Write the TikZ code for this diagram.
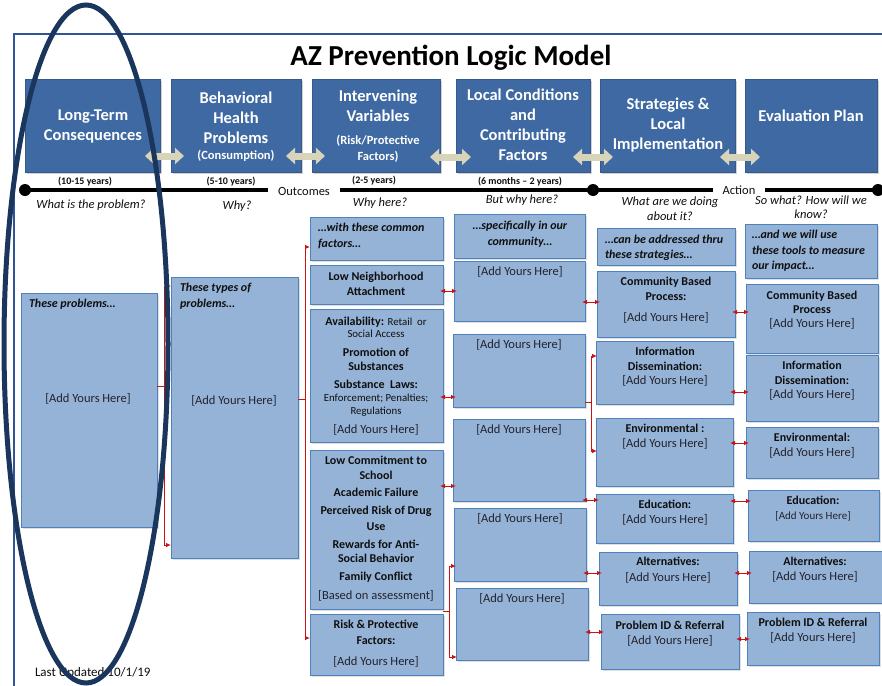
\documentclass[tikz,border=0pt]{standalone}
\usepackage{fontspec}
\setmainfont{Carlito}
\usetikzlibrary{arrows.meta,shadows,calc}
\definecolor{hdr}{RGB}{62,105,162}
\definecolor{lbf}{RGB}{149,179,215}
\definecolor{lbd}{RGB}{79,129,189}
\definecolor{rl}{RGB}{200,20,20}
\definecolor{beige}{RGB}{216,212,186}
\definecolor{navy}{RGB}{27,54,93}
\definecolor{frm}{RGB}{47,85,151}
\definecolor{tx}{RGB}{15,15,15}
\definecolor{tg}{RGB}{35,35,45}
\newcommand\mybox[6]{%
  \pgfmathsetmacro\mbw{#4-#2}%
  \pgfmathsetmacro\mbh{#5-#3}%
  \node[#6, minimum width=\mbw pt, minimum height=\mbh pt, anchor=north west] (#1) at (#2,#3) {};%
}
\begin{document}
\begin{tikzpicture}[x=1pt,y=-1pt,
  every node/.append style={inner sep=0pt, outer sep=0pt},
  hbox/.style={fill=hdr, draw=hdr!85!black, line width=0.6pt, drop shadow={shadow xshift=2pt,shadow yshift=-2pt,opacity=0.35}},
  lbox/.style={fill=lbf, draw=lbd, line width=1pt, drop shadow={shadow xshift=1.5pt,shadow yshift=-1.5pt,opacity=0.25}},
  ht/.style={font=\fontsize{16.5}{20}\selectfont\bfseries, text=white, align=center},
  hs/.style={font=\fontsize{12.5}{16}\selectfont\bfseries, text=white, align=center},
  bt/.style={font=\fontsize{12}{15}\selectfont\bfseries, text=tx, align=center, text height=8.4pt, text depth=2.4pt},
  nt/.style={font=\fontsize{12.5}{14}\selectfont, text=tg, align=center, text height=8.6pt, text depth=2.5pt},
  st/.style={font=\fontsize{10.8}{13}\selectfont, text=tx, align=center, text height=7.6pt, text depth=2.2pt},
  bi/.style={font=\fontsize{12}{15.5}\selectfont\bfseries\itshape, text=tx, align=left},
  qt/.style={font=\fontsize{12.5}{14.5}\selectfont\itshape, text=tx, align=center},
  yt/.style={font=\fontsize{10}{11}\selectfont\bfseries, text=tx},
  rarr/.style={draw=rl, line width=1pt, {Latex[length=5pt,width=4.6pt]}-{Latex[length=5pt,width=4.6pt]}, shorten <=-3pt, shorten >=-3pt},
  rline/.style={draw=rl, line width=1pt},
  harr/.style={draw=beige, line width=7pt, {Triangle[length=9pt,width=16pt]}-{Triangle[length=9pt,width=16pt]}},
  dot/.style={circle, fill=black, minimum size=12pt},
  tl/.style={font=\fontsize{12.5}{14}\selectfont, text=tx, inner xsep=10pt}
]
\useasboundingbox (0,0) rectangle (882,685);
\fill[white] (0,0) rectangle (882,685);
% frame
\draw[frm, line width=1.5pt] (14,686) -- (14,34) -- (883,34);
% title
\node[font=\fontsize{29}{32}\selectfont\bfseries, text=black] (title) at (451,58) {AZ Prevention Logic Model};
% header boxes
\mybox{h1}{25}{79}{160}{172}{hbox}
\mybox{h2}{171}{79}{301}{172}{hbox}
\mybox{h3}{312}{79}{440}{172}{hbox}
\mybox{h4}{456}{79}{590}{172}{hbox}
\mybox{h5}{600}{79}{735}{172}{hbox}
\mybox{h6}{745}{79}{877}{172}{hbox}
\node[ht] (h1t) at (93,126) {Long-Term\\Consequences};
\node[ht] (h2t) at (236,118) {Behavioral\\Health\\Problems};
\node[hs] (h2s) at (236,156) {(Consumption)};
\node[ht] (h3t) at (378,106) {Intervening\\Variables};
\node[hs] (h3s) at (378,149) {(Risk/Protective\\Factors)};
\node[ht] (h4t) at (523,125) {Local Conditions\\and\\Contributing\\Factors};
\node[ht] (h5t) at (668,125) {Strategies \&\\Local\\Implementation};
\node[ht] (h6t) at (811,116) {Evaluation Plan};
% header arrows
\draw[harr] ($(h1.east |- 0,156)+(-15,0)$) -- ($(h2.west |- 0,156)+(13,0)$);
\draw[harr] ($(h2.east |- 0,156)+(-15,0)$) -- ($(h3.west |- 0,156)+(13,0)$);
\draw[harr] ($(h3.east |- 0,157)+(-10,0)$) -- ($(h4.west |- 0,157)+(15,0)$);
\draw[harr] ($(h4.east |- 0,157)+(-17,0)$) -- ($(h5.west |- 0,157)+(13,0)$);
\draw[harr] ($(h5.east |- 0,157)+(-15,0)$) -- ($(h6.west |- 0,157)+(15,0)$);
% timeline
\node[dot] (d1) at (25,190) {};
\node[dot] (d2) at (593,190) {};
\node[dot] (d3) at (878,190) {};
\node[tl] (outc) at (304,191) {Outcomes};
\node[tl] (actn) at (739,190) {Action};
\draw[line width=4pt] (d1.center) -- (outc.west |- d1.center);
\draw[line width=4pt] (outc.east |- d1.center) -- (d2.center) -- (actn.west |- d2.center);
\draw[line width=4pt] (actn.east |- d3.center) -- (d3.center);
\node[yt] (y1) at (85,182) {(10-15 years)};
\node[yt] (y2) at (231,182) {(5-10 years)};
\node[yt] (y3) at (374,181) {(2-5 years)};
\node[yt] (y4) at (520,182) {(6 months -- 2 years)};
\node[qt] (q1) at (91,205) {What is the problem?};
\node[qt] (q2) at (237,206) {Why?};
\node[qt] (q3) at (380,203) {Why here?};
\node[qt] (q4) at (522,200) {But why here?};
\node[qt] (q5) at (670,208.5) {What are we doing\\about it?};
\node[qt] (q6) at (811,207) {So what? How will we\\know?};
% light boxes
\mybox{c1}{21}{293}{157}{527}{lbox}
\mybox{c2}{171}{277}{298}{558}{lbox}
\mybox{c3a}{310}{217}{443}{260}{lbox}
\mybox{c3b}{310}{265}{443}{304}{lbox}
\mybox{c3c}{310}{309}{443}{442}{lbox}
\mybox{c3d}{310}{450}{443}{609}{lbox}
\mybox{c3e}{310}{614}{443}{675}{lbox}
\mybox{c4h}{454}{214}{585}{258}{lbox}
\mybox{c4a}{454}{261}{585}{321}{lbox}
\mybox{c4b}{453}{334}{585}{407}{lbox}
\mybox{c4c}{453}{419}{585}{501}{lbox}
\mybox{c4d}{454}{508}{586}{581}{lbox}
\mybox{c4e}{456}{588}{588}{660}{lbox}
\mybox{c5h}{597}{228}{735}{265}{lbox}
\mybox{c5a}{597}{271}{735}{337}{lbox}
\mybox{c5b}{596}{341}{733}{404}{lbox}
\mybox{c5c}{596}{418}{733}{486}{lbox}
\mybox{c5d}{596}{494}{733}{543}{lbox}
\mybox{c5e}{599}{552}{737}{605}{lbox}
\mybox{c5f}{601}{614}{739}{669}{lbox}
\mybox{c6h}{745}{224}{877}{278}{lbox}
\mybox{c6a}{746}{284}{878}{353}{lbox}
\mybox{c6b}{746}{355}{878}{421}{lbox}
\mybox{c6c}{746}{427}{878}{478}{lbox}
\mybox{c6d}{748}{490}{879}{541}{lbox}
\mybox{c6e}{749}{551}{882}{603}{lbox}
\mybox{c6f}{747}{612}{879}{665}{lbox}
% column 1-2 texts
\node[bi, anchor=west] (c1t) at (29,304) {These problems…};
\node[nt] (c1x) at (88,399) {[Add Yours Here]};
\node[bi, anchor=west] (c2t) at (180,296) {These types of\\problems…};
\node[nt] (c2x) at (234,401) {[Add Yours Here]};
% column 3 texts
\node[bi, anchor=west] (c3at) at (318,236) {…with these common\\factors…};
\node[bt] (c3b1) at (376,277) {Low Neighborhood};
\node[bt] (c3b2) at (376,292) {Attachment};
\node[bt] (c3c1) at (376,322) {Availability: {\fontsize{10.8}{13}\selectfont\mdseries Retail\ \ or}};
\node[st] (c3c2) at (376,335) {Social Access};
\node[bt] (c3c3) at (376,353) {Promotion of};
\node[bt] (c3c4) at (376,367) {Substances};
\node[bt] (c3c5) at (376,385) {Substance\ \ Laws:};
\node[st] (c3c6) at (376,399) {Enforcement; Penalties;};
\node[st] (c3c7) at (376,412) {Regulations};
\node[nt] (c3c8) at (376,430) {[Add Yours Here]};
\node[bt] (c3d1) at (376,461) {Low Commitment to};
\node[bt] (c3d2) at (376,476) {School};
\node[bt] (c3d3) at (376,493) {Academic Failure};
\node[bt] (c3d4) at (376,511) {Perceived Risk of Drug};
\node[bt] (c3d5) at (376,527) {Use};
\node[bt] (c3d6) at (376,545) {Rewards for Anti-};
\node[bt] (c3d7) at (376,559) {Social Behavior};
\node[bt] (c3d8) at (376,577) {Family Conflict};
\node[nt] (c3d9) at (376,596) {[Based on assessment]};
\node[bt] (c3e1) at (376,625) {Risk \& Protective};
\node[bt] (c3e2) at (376,641) {Factors:};
\node[nt] (c3e3) at (376,662) {[Add Yours Here]};
% column 4 texts
\node[bi, align=center] (c4ht) at (520,234) {…specifically in our\\community…};
\node[nt] (c4at) at (520,272) {[Add Yours Here]};
\node[nt] (c4bt) at (519,345) {[Add Yours Here]};
\node[nt] (c4ct) at (519,430) {[Add Yours Here]};
\node[nt] (c4dt) at (520,519) {[Add Yours Here]};
\node[nt] (c4et) at (522,599) {[Add Yours Here]};
% column 5 texts
\node[bi, anchor=west] (c5ht) at (605,248) {…can be addressed thru\\these strategies…};
\node[bt] (c5a1) at (666,282) {Community Based};
\node[bt] (c5a2) at (666,297) {Process:};
\node[nt] (c5a3) at (666,318) {[Add Yours Here]};
\node[bt] (c5b1) at (665,352) {Information};
\node[bt] (c5b2) at (665,367) {Dissemination:};
\node[nt] (c5b3) at (665,381) {[Add Yours Here]};
\node[bt] (c5c1) at (665,429) {Environmental :};
\node[nt] (c5c2) at (665,444) {[Add Yours Here]};
\node[bt] (c5d1) at (665,505) {Education:};
\node[nt] (c5d2) at (665,520) {[Add Yours Here]};
\node[bt] (c5e1) at (668,562) {Alternatives:};
\node[nt] (c5e2) at (668,578) {[Add Yours Here]};
\node[bt] (c5f1) at (670,626) {Problem ID \& Referral};
\node[nt] (c5f2) at (670,641) {[Add Yours Here]};
% column 6 texts
\node[bi, anchor=west] (c6ht) at (752,251) {…and we will use\\these tools to measure\\our impact…};
\node[bt] (c6a1) at (812,296) {Community Based};
\node[bt] (c6a2) at (812,310) {Process};
\node[nt] (c6a3) at (812,324) {[Add Yours Here]};
\node[bt] (c6b1) at (812,366) {Information};
\node[bt] (c6b2) at (812,381) {Dissemination:};
\node[nt] (c6b3) at (812,395) {[Add Yours Here]};
\node[bt] (c6c1) at (812,438) {Environmental:};
\node[nt] (c6c2) at (812,453) {[Add Yours Here]};
\node[bt] (c6d1) at (813,501) {Education:};
\node[nt, font=\fontsize{11}{13}\selectfont] (c6d2) at (813,516) {[Add Yours Here]};
\node[bt] (c6e1) at (815,562) {Alternatives:};
\node[nt] (c6e2) at (815,577) {[Add Yours Here]};
\node[bt] (c6f1) at (813,623) {Problem ID \& Referral};
\node[nt] (c6f2) at (813,638) {[Add Yours Here]};
% red connectors
\draw[rarr] (c3b.east |- 0,291) -- (c4a.west |- 0,291);
\draw[rarr] (c3c.east |- 0,397) -- (c4b.west |- 0,397);
\draw[rarr] (c3d.east |- 0,486) -- (c4c.west |- 0,486);
\draw[rarr] (c4a.east |- 0,302) -- (c5a.west |- 0,302);
\draw[rarr] (c4c.east |- 0,500) -- (c5d.west |- 0,500);
\draw[rarr] (c4d.east |- 0,573) -- (c5e.west |- 0,573);
\draw[rarr] (c4e.east |- 0,632) -- (c5f.west |- 0,632);
\draw[rarr] (c5a.east |- 0,312) -- (c6a.west |- 0,312);
\draw[rarr] (c5b.east |- 0,392) -- (c6b.west |- 0,392);
\draw[rarr] (c5c.east |- 0,443) -- (c6c.west |- 0,443);
\draw[rarr] (c5d.east |- 0,501) -- (c6d.west |- 0,501);
\draw[rarr] (c5e.east |- 0,573) -- (c6e.west |- 0,573);
\draw[rarr] (c5f.east |- 0,639) -- (c6f.west |- 0,639);
% brackets
\coordinate (b1t) at (164,286); \coordinate (b1b) at (164,545);
\draw[rline] (c1.east |- 0,386) -- (b1t |- 0,386);
\draw[rarr, shorten <=0pt, shorten >=0pt] (c2.west |- b1t) -- (b1t) -- (b1b) -- (c2.west |- b1b);
\coordinate (b2t) at (305,247); \coordinate (b2b) at (305,638);
\draw[rline] (c2.east |- 0,399) -- (b2t |- 0,399);
\draw[rarr, shorten <=0pt, shorten >=0pt] (c3a.west |- b2t) -- (b2t) -- (b2b) -- (c3e.west |- b2b);
\coordinate (b3t) at (591,356); \coordinate (b3b) at (591,451);
\draw[rline] (c4b.east |- 0,402) -- (b3t |- 0,402);
\draw[rarr, shorten <=-1pt, shorten >=-1pt] (c5b.west |- b3t) -- (b3t) -- (b3b) -- (c5c.west |- b3b);
\coordinate (b4t) at (449,566); \coordinate (b4b) at (449,657);
\draw[rline] (c3d.east |- 0,611) -- (b4t |- 0,611);
\draw[rarr, shorten <=-2pt, shorten >=-1pt] (c4d.west |- b4t) -- (b4t) -- (b4b) -- (c4e.west |- b4b);
% footer
\node[font=\fontsize{13}{15}\selectfont, text=tx, anchor=west] (upd) at (35,673) {Last Updated 10/1/19};
% highlight ellipse
\draw[navy, line width=5pt] (86,344) ellipse [x radius=82, y radius=339];
\end{tikzpicture}
\end{document}
